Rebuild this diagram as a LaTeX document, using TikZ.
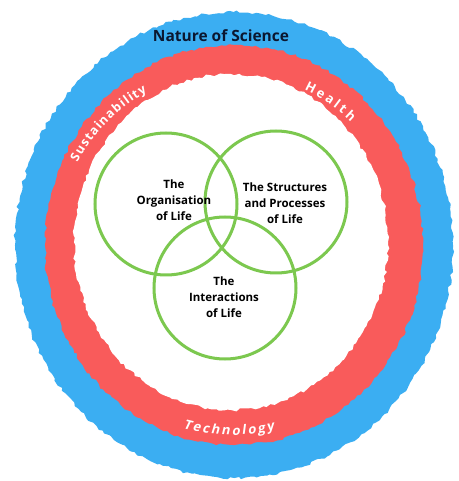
\documentclass[tikz,border=0pt]{standalone}
\usepackage{fontspec}
\setmainfont{Open Sans}
\newfontfamily\slantfont{Open Sans}[FakeSlant=0.2]
\usetikzlibrary{decorations.pathmorphing,decorations.text}

\definecolor{brushblue}{HTML}{3BAEF2}
\definecolor{brushred}{HTML}{F95B5B}
\definecolor{venngreen}{HTML}{7CC84F}
\definecolor{navytext}{HTML}{0B1730}

\tikzset{
	brush/.style={decorate,decoration={random steps,segment length=4pt,amplitude=1.5pt}},
	venn/.style={draw=venngreen,line width=3pt,circle,minimum size=2*\r},
	venntext/.style={align=center,font=\fontsize{11.5}{16}\selectfont\bfseries},
	ringtext/.style={decorate,decoration={text along path,text align={fit to path},text color=white}}
}

\begin{document}
\begin{tikzpicture}[x=1pt,y=1pt]
	\def\r{71} %radius of venn circles
	\pgfmathsetseed{7}
	\useasboundingbox (-232,-236) rectangle (226,245);
	\fill[white] (-232,-236) rectangle (226,245);
	
	%RINGS
	\fill[brushblue,brush] (2,0) ellipse [x radius=219,y radius=233];
	\fill[brushred,brush] (2,0) ellipse [x radius=189,y radius=200];
	\fill[white,brush] (-1,3) ellipse [x radius=157,y radius=168];
	
	\node[font=\fontsize{15.5}{17}\selectfont\bfseries,text=navytext] (nos) at (-11,209) {Nature of Science};
	
	%WORDS ON THE RED RING
	\path[ringtext,decoration={text={|\fontsize{12.5}{14}\selectfont\bfseries|Sustainability}}]
		(152:175) arc[start angle=152,end angle=119,radius=175];
	\path[ringtext,decoration={text={|\fontsize{13}{15}\selectfont\bfseries|Health}}]
		(65:171) arc[start angle=65,end angle=46,radius=171];
	\path[ringtext,decoration={text={|\fontsize{13}{15}\selectfont\slantfont\bfseries|Technology}}]
		(255:190) arc[start angle=255,end angle=283,radius=190];
	
	%VENN
	\node[venn] (org) at (-66,41) {};
	\node[venn] (struct) at (44,43) {};
	\node[venn] (inter) at (-7,-43) {};
	
	\node[venntext] (orgtext) at (-58,45) {The\\Organisation\\of Life};
	\node[venntext] (structtext) at (53,42) {The Structures\\and Processes\\of Life};
	\node[venntext] (intertext) at (-8,-52) {The\\Interactions\\of Life};
	
	%\draw[help lines] (-232,-236) grid[step=20] (226,245);
\end{tikzpicture}
\end{document}
